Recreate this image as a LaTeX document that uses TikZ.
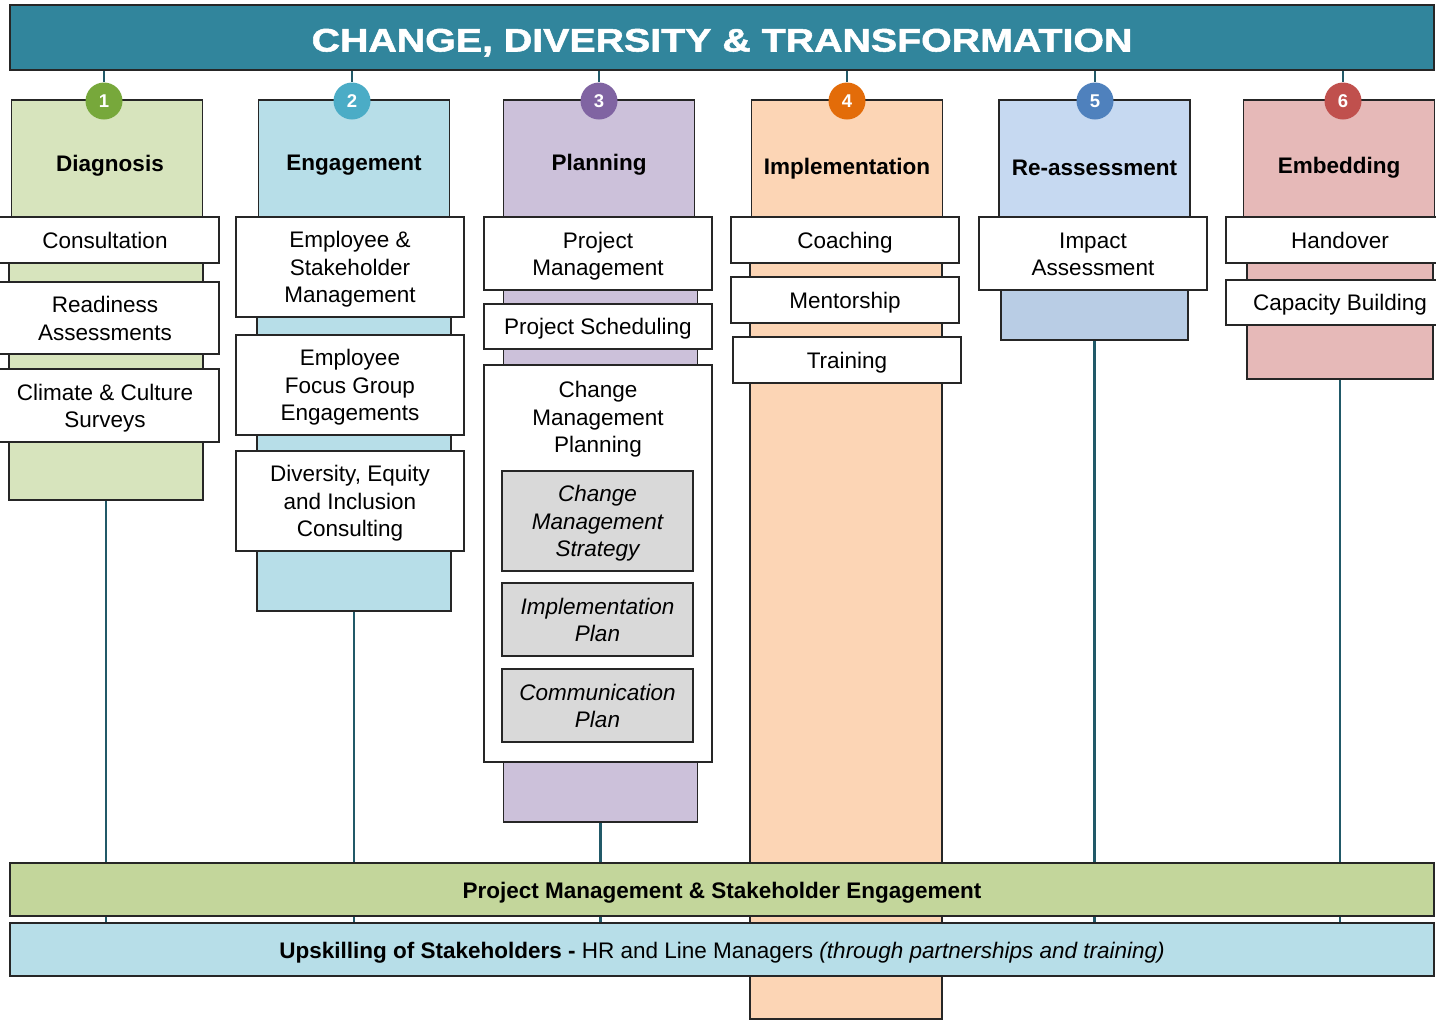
\documentclass[tikz,border=0pt]{standalone}
\usepackage{fontspec}
\setmainfont{Liberation Sans}
\newfontfamily\titlefont[FakeStretch=1.21,BoldFeatures={FakeBold=1.6}]{Liberation Sans}
\usetikzlibrary{positioning}
\definecolor{titleC}{RGB}{49,133,156}
\definecolor{connC}{RGB}{33,89,104}
\definecolor{edgeC}{RGB}{38,38,38}
\definecolor{diagC}{RGB}{215,228,189}
\definecolor{engC}{RGB}{183,222,232}
\definecolor{planC}{RGB}{204,193,218}
\definecolor{implC}{RGB}{252,213,181}
\definecolor{reassC}{RGB}{198,217,241}
\definecolor{reassB}{RGB}{185,205,229}
\definecolor{embC}{RGB}{230,185,184}
\definecolor{subC}{RGB}{217,217,217}
\definecolor{pmC}{RGB}{195,214,155}
\definecolor{skillC}{RGB}{183,222,232}
\definecolor{oneC}{RGB}{119,168,59}
\definecolor{twoC}{RGB}{75,172,198}
\definecolor{threeC}{RGB}{128,100,162}
\definecolor{fourC}{RGB}{227,108,9}
\definecolor{fiveC}{RGB}{79,129,189}
\definecolor{sixC}{RGB}{192,80,77}

\begin{document}
\begin{tikzpicture}[x=1pt,y=-1pt,
font=\fontsize{22.5}{27.5}\selectfont,
box/.style={draw=edgeC,line width=1.8pt,inner sep=0pt,align=center},
hdr/.style={box,minimum width=191pt,minimum height=117pt},
body/.style={box,minimum width=194pt},
item/.style={box,fill=white,minimum width=228pt},
oneline/.style={text height=16.6pt,text depth=0pt},
twolines/.style={text height=44.1pt,text depth=0pt},
threelines/.style={text height=71.6pt,text depth=0pt},
sub/.style={box,fill=subC,minimum width=191pt,font=\fontsize{22.5}{27.5}\selectfont\itshape},
num/.style={circle,fill=#1,minimum size=37pt,inner sep=0pt,text=white,font=\fontsize{18.5}{18.5}\selectfont\bfseries},
conn/.style={connC,line width=2.4pt},
hdrtext/.style={font=\fontsize{22.5}{27.5}\selectfont\bfseries},
bar/.style={box,minimum width=1424pt,minimum height=53pt,text height=17pt,text depth=0pt}]
    \useasboundingbox (0,0) rectangle (1436,1021);

    % Title bar
    \node[box,fill=titleC,minimum width=1424pt,minimum height=65pt,text=white,
      text height=28pt,text depth=0pt,
      font=\titlefont\fontsize{32.5}{32.5}\selectfont\bfseries] (title) at (722,37.5)
      {CHANGE, DIVERSITY \& TRANSFORMATION};

    % Bottom bars (placed first so the lines can reach them)
    \coordinate (pmpos) at (722,889.5);
    \coordinate (skillpos) at (722,949.5);

    % Column bodies
    \node[body,fill=diagC,minimum height=283pt] (b1) at (106,358.5) {};
    \node[body,fill=engC,minimum height=394pt] (b2) at (354,414) {};
    \node[body,fill=planC,minimum height=605pt] (b3) at (600.5,519.5) {};
    \node[body,fill=implC,minimum width=192pt,minimum height=802pt] (b4) at (846,618) {};
    \node[body,fill=reassB,minimum width=187pt,minimum height=123pt] (b5) at (1094.5,278.5) {};
    \node[body,fill=embC,minimum width=186pt,minimum height=162pt] (b6) at (1340,298) {};

    % Lines down to the bars
    \foreach \b in {b1,b2,b3,b5,b6}
        \draw[conn] (\b.south) -- (\b.south |- skillpos) -- ++(0,-26);

    % Bars
    \node[bar,fill=pmC,font=\fontsize{22.5}{27.5}\selectfont\bfseries] (pm) at (pmpos)
      {Project Management \& Stakeholder Engagement};
    \node[bar,fill=skillC] (skill) at (skillpos)
      {\textbf{Upskilling of Stakeholders -} HR and Line Managers \textit{(through partnerships and training)}};

    % Headers
    \node[hdr,fill=diagC] (h1) at (107,158.5) {};
    \node[hdr,fill=engC] (h2) at (354,158.5) {};
    \node[hdr,fill=planC] (h3) at (599,158.5) {};
    \node[hdr,fill=implC] (h4) at (847,158.5) {};
    \node[hdr,fill=reassC] (h5) at (1094.5,158.5) {};
    \node[hdr,fill=embC] (h6) at (1339,158.5) {};
    \node[hdrtext] at ([xshift=3pt,yshift=-7pt]h1.center) {Diagnosis};
    \node[hdrtext] at ([yshift=-7pt]h2.center) {Engagement};
    \node[hdrtext] at ([yshift=-6pt]h3.center) {Planning};
    \node[hdrtext] at ([yshift=-10pt]h4.center) {Implementation};
    \node[hdrtext] at ([yshift=-9pt]h5.center) {Re-assessment};
    \node[hdrtext] at ([yshift=-9pt]h6.center) {Embedding};

    % Diagnosis items
    \node[item,oneline,minimum height=46pt] (consult) at (105,240) {Consultation};
    \node[item,twolines,minimum height=72pt] (ready) at (105,318) {Readiness\\Assessments};
    \node[item,twolines,minimum height=73pt] (climate) at (105,405.5) {Climate \& Culture\\Surveys};

    % Engagement items
    \node[item,threelines,minimum height=100pt] (esm) at (350,267) {Employee \&\\Stakeholder\\Management};
    \node[item,threelines,minimum height=100pt] (efg) at (350,385) {Employee\\Focus Group\\Engagements};
    \node[item,threelines,minimum height=100pt] (dei) at (350,501) {Diversity, Equity\\and Inclusion\\Consulting};

    % Planning items
    \node[item,twolines,minimum height=73pt] (projman) at (598,253.5) {Project\\Management};
    \node[item,oneline,minimum height=45pt] (sched) at (598,326.5) {Project Scheduling};
    \node[item,minimum height=397pt] (cmp) at (598,563.5) {};
    \node[anchor=north,align=center] at ([yshift=-14pt]cmp.north) {Change\\Management\\Planning};
    \node[sub,threelines,minimum height=100pt] (strat) at (597.5,521) {Change\\Management\\Strategy};
    \node[sub,twolines,minimum height=73pt] (implan) at (597.5,619.5) {Implementation\\Plan};
    \node[sub,twolines,minimum height=73pt] (complan) at (597.5,705.5) {Communication\\Plan};

    % Implementation items
    \node[item,oneline,minimum height=46pt] (coach) at (845,240) {Coaching};
    \node[item,oneline,minimum height=46pt] (mentor) at (845,300) {Mentorship};
    \node[item,oneline,minimum height=46pt] (train) at (847,360) {Training};

    % Re-assessment and Embedding items
    \node[item,twolines,minimum height=73pt] (impact) at (1093,253.5) {Impact\\Assessment};
    \node[item,oneline,minimum height=46pt] (hand) at (1340,240) {Handover};
    \node[item,oneline,minimum height=45pt] (capac) at (1340,302.5) {Capacity Building};

    % Number circles
    \node[num=oneC] (n1) at (104,101) {1};
    \node[num=twoC] (n2) at (352,101) {2};
    \node[num=threeC] (n3) at (599,101) {3};
    \node[num=fourC] (n4) at (847,101) {4};
    \node[num=fiveC] (n5) at (1095,101) {5};
    \node[num=sixC] (n6) at (1343,101) {6};
    \foreach \n in {n1,n2,n3,n4,n5,n6}
        \draw[conn] (title.south -| \n) -- (\n.north);
\end{tikzpicture}
\end{document}
